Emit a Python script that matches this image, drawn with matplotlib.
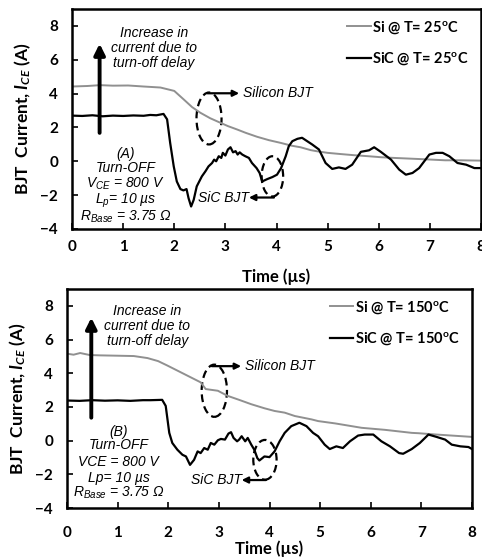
import matplotlib
matplotlib.use("Agg")
import matplotlib.pyplot as plt
from matplotlib.patches import Ellipse
import numpy as np

plt.rcParams['mathtext.fontset'] = 'custom'
plt.rcParams['mathtext.rm'] = 'Lato:bold'
plt.rcParams['mathtext.bf'] = 'Lato:bold'
plt.rcParams['mathtext.it'] = 'Lato:italic:bold'
plt.rcParams['mathtext.sf'] = 'Liberation Sans:italic'

# (A) T = 25 C traces
si25_t = [0, 0.3, 0.55, 0.8, 1.1, 1.4, 1.73, 2.0, 2.18, 2.35, 2.51, 2.7, 2.9, 3.05,
          3.23, 3.4, 3.62, 3.85, 4.08, 4.3, 4.47, 4.67, 4.8, 5.0, 5.25, 5.52, 5.8,
          6.05, 6.3, 6.6, 6.9, 7.3, 7.6, 8.0]
si25_i = [4.42, 4.45, 4.5, 4.47, 4.48, 4.42, 4.36, 4.16, 3.67, 3.2, 2.87, 2.55, 2.28,
          2.08, 1.88, 1.68, 1.45, 1.25, 1.09, 0.92, 0.83, 0.66, 0.59, 0.5, 0.43,
          0.36, 0.3, 0.24, 0.2, 0.16, 0.12, 0.06, 0.06, 0.04]

sic25_t = [0, 0.2, 0.4, 0.6, 0.8, 1.0, 1.2, 1.4, 1.53, 1.65, 1.79, 1.86, 1.92, 1.99,
           2.05, 2.12, 2.18, 2.24, 2.28, 2.33, 2.38, 2.44, 2.54, 2.61, 2.67, 2.74,
           2.78, 2.82, 2.87, 2.92, 2.95, 3.0, 3.05, 3.1, 3.15, 3.2, 3.24, 3.28, 3.33,
           3.39, 3.46, 3.52, 3.61, 3.67, 3.72, 3.82, 3.92, 4.01, 4.09, 4.18, 4.24,
           4.31, 4.41, 4.5, 4.6, 4.7, 4.83, 4.96, 5.09, 5.22, 5.35, 5.48, 5.65, 5.81,
           5.91, 6.04, 6.24, 6.4, 6.53, 6.66, 6.79, 6.89, 6.99, 7.12, 7.25, 7.38,
           7.54, 7.71, 7.87, 8.0]
sic25_i = [2.7, 2.68, 2.72, 2.66, 2.7, 2.68, 2.71, 2.69, 2.74, 2.72, 2.8, 2.48, 1.09,
           -0.3, -1.19, -1.64, -1.72, -1.64, -2.18, -2.67, -2.28, -1.48, -0.89,
           -0.59, -0.3, -0.1, 0.1, 0.0, 0.3, 0.2, 0.5, 0.34, 0.7, 0.83, 0.53, 0.6,
           0.4, 0.53, 0.4, 0.3, 0.2, -0.1, -0.4, -0.69, -1.19, -1.05, -0.93, -0.79,
           -0.4, 0.3, 0.89, 1.19, 1.33, 1.39, 1.19, 0.99, 0.7, -0.1, -0.45, -0.36,
           -0.45, -0.2, 0.56, 0.65, 0.83, 0.56, 0.1, -0.49, -0.79, -0.69, -0.4, 0.0,
           0.4, 0.5, 0.5, 0.3, -0.1, -0.2, -0.4, -0.4]

# (B) T = 150 C traces
si150_t = [0, 0.13, 0.26, 0.45, 0.66, 1.0, 1.32, 1.59, 1.8, 1.98, 2.31, 2.64, 2.74,
           2.98, 3.17, 3.4, 3.64, 3.9, 4.1, 4.3, 4.5, 4.83, 4.96, 5.3, 5.62, 5.82,
           6.28, 6.81, 6.94, 7.3, 7.6, 8.0]
si150_i = [5.16, 5.1, 5.2, 5.08, 5.06, 5.04, 5.02, 4.9, 4.72, 4.46, 3.96, 3.46, 3.06,
           2.96, 2.66, 2.42, 2.16, 1.92, 1.76, 1.66, 1.46, 1.26, 1.16, 1.02, 0.86,
           0.76, 0.64, 0.46, 0.44, 0.36, 0.3, 0.22]

sic150_t = [0, 0.25, 0.5, 0.75, 1.0, 1.25, 1.5, 1.65, 1.88, 1.95, 2.02, 2.08, 2.18,
            2.28, 2.35, 2.43, 2.51, 2.58, 2.64, 2.71, 2.78, 2.84, 2.91, 2.98, 3.04,
            3.12, 3.19, 3.24, 3.29, 3.36, 3.4, 3.45, 3.52, 3.57, 3.64, 3.7, 3.76, 3.8,
            3.9, 4.0, 4.1, 4.2, 4.3, 4.43, 4.59, 4.73, 4.86, 4.96, 5.09, 5.19, 5.32,
            5.45, 5.59, 5.75, 5.88, 6.05, 6.21, 6.38, 6.56, 6.64, 6.81, 6.97, 7.14,
            7.3, 7.47, 7.6, 7.77, 7.93, 8.0]
sic150_i = [2.38, 2.36, 2.4, 2.37, 2.39, 2.36, 2.4, 2.4, 2.42, 2.06, 0.46, -0.14,
            -0.54, -0.84, -0.94, -1.44, -1.14, -0.64, -0.74, -0.44, -0.54, -0.14,
            -0.24, 0.02, 0.1, 0.06, 0.42, 0.5, 0.16, -0.04, 0.06, 0.26, -0.04, 0.16,
            -0.24, -0.54, -1.04, -1.18, -0.94, -0.98, -0.64, -0.04, 0.46, 0.86, 1.06,
            0.86, 0.46, 0.26, -0.24, -0.5, -0.34, -0.44, -0.04, 0.3, 0.36, 0.36,
            -0.04, -0.34, -0.74, -0.78, -0.5, -0.14, 0.36, 0.22, 0.06, -0.24, -0.34,
            -0.38, -0.5]

delay_lines = ['Increase in', 'current due to', 'turn-off delay']
info_a = ['(A)', 'Turn-OFF', '$\\mathsf{V_{CE}}$ = 800 V', '$\\mathsf{L_p}$= 10 µs',
          '$\\mathsf{R_{Base}}$ = 3.75 Ω']
info_b = ['(B)', 'Turn-OFF', 'VCE = 800 V', 'Lp= 10 µs', '$\\mathsf{R_{Base}}$ = 3.75 Ω']

GRAY = '#909090'
BOLD = dict(family='Lato', weight='bold')
ITAL = dict(family='Liberation Sans', style='italic', size=10)

fig = plt.figure(figsize=(4.82, 5.57), dpi=100)
ax1 = fig.add_axes([72 / 482, (557 - 229) / 557, 409 / 482, 220 / 557])
ax2 = fig.add_axes([67 / 482, (557 - 508) / 557, 405 / 482, 219 / 557])


def setup(ax, xpad, labelpad):
    ax.set_xlim(0, 8)
    ax.set_ylim(-4, 9)
    ax.set_xticks(range(0, 9))
    ax.set_yticks(range(-4, 9, 2))
    ax.tick_params(direction='in', length=4, width=1.2, labelsize=11)
    ax.tick_params(axis='x', pad=xpad)
    ax.tick_params(axis='y', pad=10)
    for lab in ax.get_xticklabels() + ax.get_yticklabels():
        lab.set_fontfamily('Lato')
        lab.set_fontweight('bold')
    for sp in ax.spines.values():
        sp.set_linewidth(1.8)
    ax.set_xlabel('Time (µs)', fontsize=12, labelpad=labelpad, **BOLD)
    ax.set_ylabel('BJT  Current, $I_{CE}$ (A)', fontsize=12.5, labelpad=5, **BOLD)


def decorate(ax, arrow, txt_x, txt_ys, info_x, info_ys, info, el1, si_arrow,
             el2, sic_arrow):
    ax_x, ay0, ay1 = arrow
    ax.annotate('', xy=(ax_x, ay1), xytext=(ax_x, ay0),
                arrowprops=dict(arrowstyle='-|>', lw=2.8, color='black',
                                mutation_scale=16, shrinkA=0, shrinkB=0))
    for s, y in zip(delay_lines, txt_ys):
        ax.text(txt_x, y, s, ha='center', va='center', **ITAL)
    for s, y in zip(info, info_ys):
        ax.text(info_x, y, s, ha='center', va='center', **ITAL)
    for (cx, cy, w, h) in (el1, el2):
        ax.add_patch(Ellipse((cx, cy), w, h, fill=False, ls=(0, (3.5, 2)),
                             lw=1.6, color='black'))
    (x0, y0, x1) = si_arrow
    ax.annotate('', xy=(x1, y0), xytext=(x0, y0),
                arrowprops=dict(arrowstyle='-|>', lw=1.6, color='black',
                                mutation_scale=9, shrinkA=0, shrinkB=0))
    ax.text(x1 + 0.08, y0, 'Silicon BJT', ha='left', va='center', **ITAL)
    (x0, y0, x1) = sic_arrow
    ax.annotate('', xy=(x1, y0), xytext=(x0, y0),
                arrowprops=dict(arrowstyle='-|>', lw=1.6, color='black',
                                mutation_scale=9, shrinkA=0, shrinkB=0))
    ax.text(x1, y0, 'SiC BJT', ha='right', va='center', **ITAL)


# top panel, 25 C
setup(ax1, 8, 10)
ax1.plot(si25_t, si25_i, color=GRAY, lw=1.4, label='Si @ T= 25$^{\\mathrm{o}}$C')
ax1.plot(sic25_t, sic25_i, color='black', lw=1.6, label='SiC @ T= 25$^{\\mathrm{o}}$C')
decorate(ax1, (0.54, 1.68, 6.95), 1.6, [7.56, 6.67, 5.78],
         1.05, [0.46, -0.4, -1.35, -2.34, -3.27], info_a,
         (2.68, 2.53, 0.49, 3.07), (2.65, 4.02, 3.27),
         (3.92, -0.89, 0.42, 2.38), (3.95, -2.14, 3.46))

# bottom panel, 150 C
setup(ax2, 13, 0)
ax2.plot(si150_t, si150_i, color=GRAY, lw=1.4, label='Si @ T= 150$^{\\mathrm{o}}$C')
ax2.plot(sic150_t, sic150_i, color='black', lw=1.6, label='SiC @ T= 150$^{\\mathrm{o}}$C')
decorate(ax2, (0.48, 1.36, 7.3), 1.59, [7.72, 6.82, 5.9],
         1.02, [0.5, -0.28, -1.24, -2.2, -3.08], info_b,
         (2.91, 2.96, 0.5, 3.1), (2.86, 4.42, 3.44),
         (3.91, -1.14, 0.46, 2.36), (3.93, -2.34, 3.45))

for ax in (ax1, ax2):
    ax.legend(loc='upper right', bbox_to_anchor=(0.97, 0.955), frameon=False,
              handlelength=1.6, handletextpad=0.1, labelspacing=1.0,
              borderpad=0, borderaxespad=0,
              prop=dict(family='Lato', weight='bold', size=10.5))

fig.savefig('out.png', dpi=100)
